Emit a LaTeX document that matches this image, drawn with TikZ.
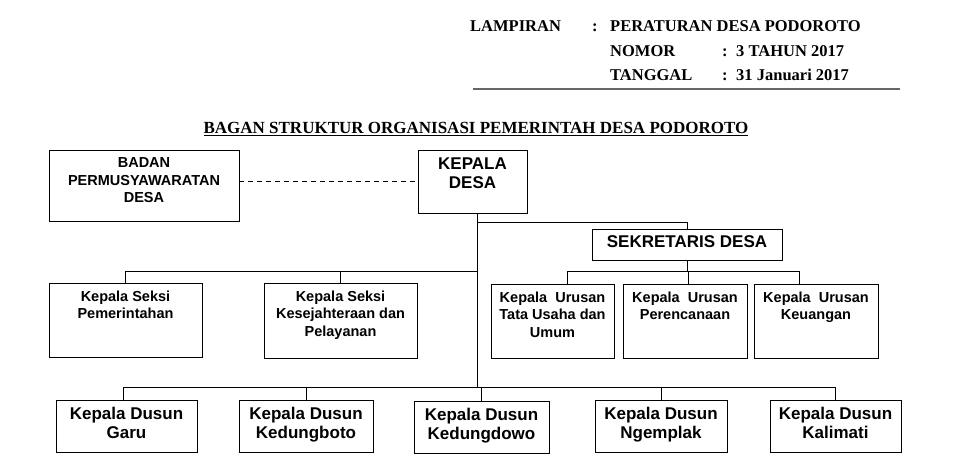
\documentclass[tikz,border=0pt]{standalone}
\usepackage{fontspec}
\setmainfont{Liberation Serif}
\setsansfont{Liberation Sans}
\begin{document}
\begin{tikzpicture}[x=1pt,y=-1pt,
  box/.style={draw, line width=0.8pt, inner sep=0pt},
  txt/.style={anchor=north, align=center, font=\sffamily\bfseries\fontsize{14.5}{17.5}\selectfont, inner sep=0pt},
  dtxt/.style={anchor=north, align=center, font=\sffamily\bfseries\fontsize{17}{19.5}\selectfont, inner sep=0pt},
  hdr/.style={anchor=base west, font=\bfseries\fontsize{16.5}{18}\selectfont, inner sep=0pt},
  ln/.style={line width=0.8pt}]
\useasboundingbox (0,0) rectangle (955,470);
% header
\node[hdr] (l1) at (470,32) {LAMPIRAN};
\node[hdr] (c1) at (592,32) {:};
\node[hdr] (v1) at (610,32) {PERATURAN DESA PODOROTO};
\node[hdr] (l2) at (610,57) {NOMOR};
\node[hdr] (c2) at (722,57) {:};
\node[hdr] (v2) at (736,57) {3 TAHUN 2017};
\node[hdr] (l3) at (610,81) {TANGGAL};
\node[hdr] (c3) at (722,81) {:};
\node[hdr] (v3) at (736,81) {31 Januari 2017};
\draw[line width=1.2pt, gray!80!black] (473,89) -- (900,89);
\node[anchor=base, font=\bfseries\fontsize{17}{19}\selectfont, inner sep=0pt] (title) at (476,134) {\underline{BAGAN STRUKTUR ORGANISASI PEMERINTAH DESA PODOROTO}};
% boxes
\newcommand{\bx}[8]{\node[box, minimum width=#4-#2, minimum height=#5-#3] (#1) at ({(#2+#4)/2},{(#3+#5)/2}) {};
  \node[#7] at ([yshift=-#8pt]#1.north) {#6};}
\bx{bpd}{49}{150}{239}{221}{BADAN\\PERMUSYAWARATAN\\DESA}{txt}{8}
\bx{kd}{418}{150}{527}{213}{KEPALA\\DESA}{dtxt}{8}
\bx{sek}{592}{229}{782}{260}{SEKRETARIS DESA}{dtxt}{7}
\bx{s1}{49}{283}{202}{357}{Kepala Seksi\\Pemerintahan}{txt}{8}
\bx{s2}{264}{283}{417}{358}{Kepala Seksi\\Kesejahteraan dan\\Pelayanan}{txt}{8}
\bx{u1}{491}{284}{614}{358}{Kepala~ Urusan\\Tata Usaha dan\\Umum}{txt}{8}
\bx{u2}{623}{284}{747}{358}{Kepala~ Urusan\\Perencanaan}{txt}{8}
\bx{u3}{754}{284}{878}{358}{Kepala~ Urusan\\Keuangan}{txt}{8}
\bx{d1}{56}{400}{197}{452}{Kepala Dusun\\Garu}{dtxt}{7}
\bx{d2}{239}{400}{373}{452}{Kepala Dusun\\Kedungboto}{dtxt}{7}
\bx{d3}{414}{401}{549}{453}{Kepala Dusun\\Kedungdowo}{dtxt}{7}
\bx{d4}{595}{400}{727}{452}{Kepala Dusun\\Ngemplak}{dtxt}{7}
\bx{d5}{770}{400}{901}{452}{Kepala Dusun\\Kalimati}{dtxt}{7}
% connectors
\draw[ln, dashed, dash pattern=on 5pt off 4pt] (bpd.east |- 0,181) -- (kd.west |- 0,181);
\coordinate (kdb) at (477,213);
\coordinate (jd) at (477,387);
\draw[ln] (kdb) -- (jd);
\draw[ln] (477,222) -| (sek.north);
\draw[ln] (s1.north -| 125,0) -- (125,271) -- (477,271);
\draw[ln] (s2.north) -- (s2.north |- 0,271);
\draw[ln] (sek.south) -- (sek.south |- 0,271);
\draw[ln] (u1.north -| 567,0) -- (567,271) -- (799,271) -- (u3.north -| 799,0);
\draw[ln] (u2.north -| 688,0) -- (688,271);
\draw[ln] (d1.north -| 123,0) -- (123,387) -- (835,387) -- (d5.north -| 835,0);
\draw[ln] (d2.north) -- (d2.north |- 0,387);
\draw[ln] (d3.north) -- (d3.north |- 0,387);
\draw[ln] (d4.north) -- (d4.north |- 0,387);
\end{tikzpicture}
\end{document}
